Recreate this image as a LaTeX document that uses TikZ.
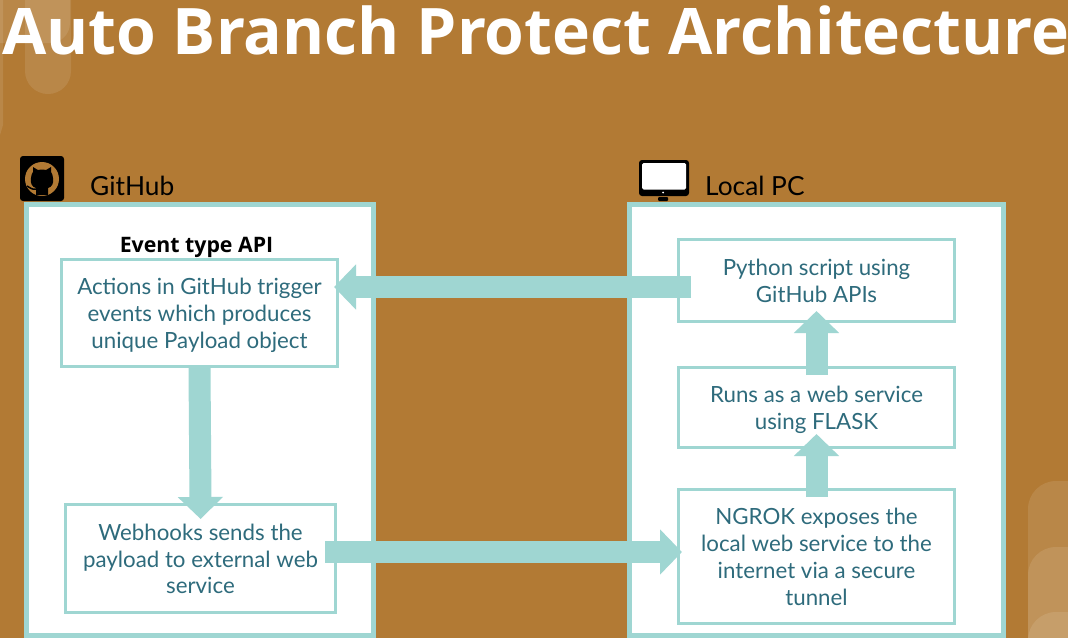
\documentclass[tikz,border=0pt]{standalone}
\usepackage{fontspec}
\setmainfont{Lato}
\newfontfamily\titlefont{Open Sans}
\usetikzlibrary{arrows.meta}
\definecolor{bgbrown}{HTML}{B27A34}
\definecolor{paleteal}{HTML}{9FD6D2}
\definecolor{boxtext}{HTML}{2E6B7C}
\newcommand{\padtop}{\rule{0pt}{23pt}}
\begin{document}
\begin{tikzpicture}[x=1pt,y=-1pt]
\tikzstyle{panel}=[rectangle,draw=paleteal,fill=white,line width=5pt,inner sep=0pt]
\tikzstyle{stepbox}=[rectangle,draw=paleteal,fill=white,line width=3pt,inner sep=0pt,
align=center,text=boxtext,font=\fontsize{22.3}{26.8}\selectfont,
execute at end node={\rule[-6pt]{0pt}{6pt}}]
\tikzstyle{heading}=[anchor=west,inner sep=0pt,font=\fontsize{26.3}{30}\selectfont]
\tikzstyle{fatarrow}=[draw=paleteal,line width=22pt,-{Triangle[length=22pt,width=44pt]}]
\tikzstyle{blob}=[fill=white,fill opacity=0.1]

\useasboundingbox (0,0) rectangle (1068,638);
\clip (0,0) rectangle (1068,638);
\fill[bgbrown] (0,0) rectangle (1068,638);

% stripes in the corners
\fill[blob] (25,0) -- (25,71) arc (180:0:23) -- (71,0) -- cycle;
\fill[blob] (0,0) -- (0,135) -- (3,125) -- (3,0) -- cycle;
\fill[blob] (0,0) -- (0,43) -- (50,43) arc (90:0:20) -- (70,0) -- cycle;
\fill[blob] (1068,481) -- (1056,481) arc (-90:-180:28) -- (1028,638) -- (1068,638) -- cycle;
\fill[blob] (1068,547) -- (1056,547) arc (-90:-180:28) -- (1028,638) -- (1068,638) -- cycle;
\fill[blob] (1068,612) -- (1056,612) arc (-90:-180:28) -- (1028,638) -- (1068,638) -- cycle;

\node[anchor=base west,inner sep=0pt,text=white,font=\fontsize{64.2}{70}\titlefont\bfseries] at (2,54) (title) {Auto Branch Protect Architecture};

% github logo
\fill[black,rounded corners=3pt] (20,156) rectangle (64,201);
\fill[bgbrown] (42,179) circle (17);
\fill[black] (36,195) -- (36,188) .. controls (32,187) and (30,183) .. (31,178)
.. controls (31,175) and (32,174) .. (33,172) -- (33,167) -- (38,170)
.. controls (40,169.5) and (44,169.5) .. (46,170) -- (51,167) -- (51,172)
.. controls (52,174) and (53,175) .. (53,178) .. controls (54,183) and (52,187) .. (48,188)
-- (48,195) -- cycle;
\draw[black,line width=1.5pt] (36,189) .. controls (31,190) and (30,187) .. (27,186);

% monitor
\fill[black,rounded corners=3pt] (639,160) rectangle (689,196);
\fill[white,rounded corners=1.5pt] (642,163) rectangle (686,189.5);
\fill[white] (663,192.5) circle (1);
\fill[black,rounded corners=1pt] (658,197) rectangle (668,201);

\node[heading] at (90,186) (ghlabel) {GitHub};
\node[heading] at (705,186) (pclabel) {Local PC};

\node[panel,minimum width=347pt,minimum height=431pt] at (200,419.5) (ghpanel) {};
\node[panel,minimum width=374pt,minimum height=431pt] at (816.5,419.5) (pcpanel) {};

\node[inner sep=0pt,font=\fontsize{21.3}{24}\titlefont\bfseries] at (196.5,247) (apilabel) {Event type API};

\node[stepbox,minimum width=276pt,minimum height=107pt] at (199.5,313) (actions) {\padtop Actions in GitHub trigger\\events which produces\\unique Payload object};
\node[stepbox,minimum width=270pt,minimum height=108pt] at (200.5,558.5) (webhooks) {\padtop Webhooks sends the\\payload to external web\\service};
\node[stepbox,minimum width=276pt,minimum height=82pt] at (816.5,280.5) (python) {\padtop Python script using\\GitHub APIs};
\node[stepbox,minimum width=276pt,minimum height=80pt] at (816.5,407.5) (flask) {\padtop Runs as a web service\\using FLASK};
\node[stepbox,minimum width=276pt,minimum height=134pt] at (816.5,556.5) (ngrok) {\padtop NGROK exposes the\\local web service to the\\internet via a secure\\tunnel};

\draw[fatarrow,shorten <=-14pt,shorten >=-5pt] (python.west |- 0,287) -- (actions.east |- 0,287);
\draw[fatarrow,shorten >=-16pt] (actions.south) -- (webhooks.north);
\draw[fatarrow,shorten <=-12pt,shorten >=-5pt] (webhooks.east |- 0,552) -- (ngrok.west |- 0,552);
\draw[fatarrow,shorten <=-9pt,shorten >=-15pt] (ngrok.north) -- (flask.south);
\draw[fatarrow,shorten <=-9pt,shorten >=-12pt] (flask.north) -- (python.south);

\end{tikzpicture}
\end{document}
